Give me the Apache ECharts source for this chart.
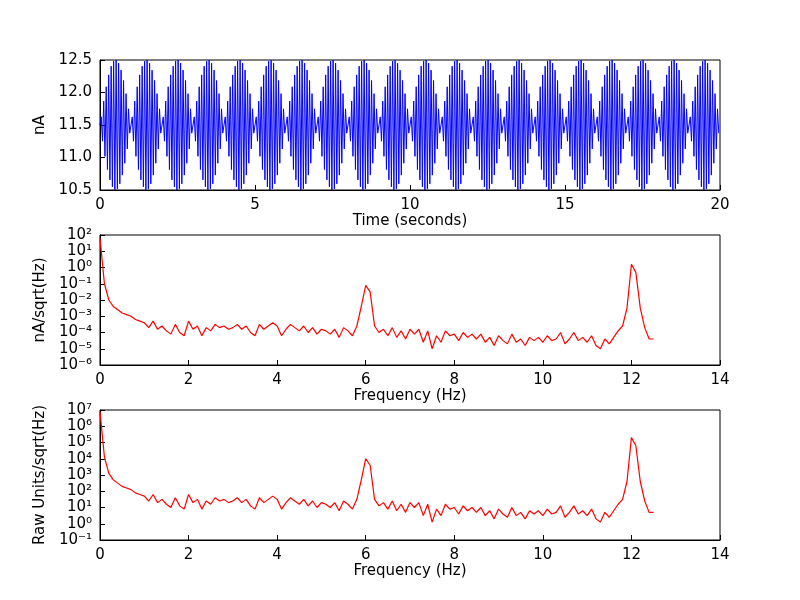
<!DOCTYPE html>
<html>
<head>
<meta charset="utf-8">
<script src="https://cdn.jsdelivr.net/npm/echarts@6/dist/echarts.min.js"></script>
<style>html,body{margin:0;padding:0;background:#fff}#main{width:800px;height:600px}</style>
</head>
<body>
<div id="main"></div>
<script>
// sample rate of the recording (Hz) and duration (s)
var sampleRate = 25;
var duration = 20;

// one 1-second beat of the sampled 12 Hz signal (nA), repeats through the record
var beatSamples = [11.5, 11.625, 11.251, 11.868, 11.018, 12.088, 10.815, 12.271, 10.656, 12.405,
    10.549, 12.482, 10.502, 12.498, 10.518, 12.451, 10.595, 12.344, 10.729, 12.185,
    10.912, 11.982, 11.132, 11.749, 11.375];

// spectrum, log10 of nA/sqrt(Hz), frequency step 0.1 Hz from 0 to 12.5
var specStep = 0.1;
var specLog = [1.8, -1.0, -2.0, -2.4, -2.6, -2.8, -2.9, -3.0, -3.2, -3.3,
    -3.4, -3.7, -3.3, -3.8, -3.6, -3.9, -4.1, -3.5, -4.0, -4.2,
    -3.3, -3.8, -3.6, -4.2, -3.7, -3.9, -3.5, -3.7, -3.6, -3.8,
    -3.7, -3.5, -3.8, -3.6, -4.0, -4.2, -3.5, -3.8, -3.6, -3.4,
    -3.6, -4.2, -3.8, -3.5, -3.7, -3.9, -3.6, -4.0, -3.7, -4.1,
    -3.8, -3.9, -4.1, -3.8, -4.3, -3.7, -3.9, -4.2, -3.6, -2.4,
    -1.1, -1.5, -3.6, -4.0, -3.8, -4.2, -3.7, -4.3, -3.9, -4.4,
    -3.8, -4.1, -3.8, -4.6, -3.9, -5.0, -4.2, -4.6, -3.9, -4.2,
    -4.1, -4.5, -4.0, -4.3, -4.1, -4.4, -4.1, -4.6, -4.3, -4.8,
    -4.2, -4.5, -4.7, -4.1, -4.6, -4.4, -4.8, -4.3, -4.5, -4.3,
    -4.6, -4.2, -4.5, -4.4, -4.0, -4.7, -4.4, -4.0, -4.5, -4.3,
    -4.6, -4.2, -4.8, -5.0, -4.4, -4.7, -4.3, -3.9, -3.6, -2.5,
    0.2, -0.3, -2.5, -3.7, -4.4, -4.4];

// raw units per nA
var rawPerNA = 1.26e5;

var signal = [];
for (var i = 0; i < sampleRate * duration; i++) {
    signal.push([i / sampleRate, beatSamples[i % beatSamples.length]]);
}
var specNA = specLog.map(function (v, i) { return [i * specStep, Math.pow(10, v)]; });
var specRaw = specLog.map(function (v, i) { return [i * specStep, Math.pow(10, v) * rawPerNA]; });

var sup = {'-': '\u207B', '0': '\u2070', '1': '\u00B9', '2': '\u00B2', '3': '\u00B3', '4': '\u2074',
    '5': '\u2075', '6': '\u2076', '7': '\u2077', '8': '\u2078', '9': '\u2079'};
function powLabel(v) {
    var e = String(Math.round(Math.log10(v)));
    return '10' + e.split('').map(function (c) { return sup[c]; }).join('');
}

var font = 'DejaVu Sans';
var axisCommon = {
    axisLine: {lineStyle: {color: '#000'}},
    axisTick: {inside: true, length: 5, lineStyle: {color: '#000'}},
    axisLabel: {color: '#000', fontSize: 15, fontFamily: font},
    splitLine: {show: false},
    nameLocation: 'middle',
    nameTextStyle: {color: '#000', fontSize: 15, fontFamily: font}
};
function ax(o) { return Object.assign({}, axisCommon, o); }

var chart = echarts.init(document.getElementById('main'));
chart.setOption({
    animation: false,
    backgroundColor: '#fff',
    grid: [
        {left: 100, right: 80, top: 60, height: 130, show: true, borderColor: '#000', borderWidth: 1},
        {left: 100, right: 80, top: 235, height: 130, show: true, borderColor: '#000', borderWidth: 1},
        {left: 100, right: 80, top: 410, height: 130, show: true, borderColor: '#000', borderWidth: 1}
    ],
    xAxis: [
        ax({gridIndex: 0, type: 'value', min: 0, max: 20, interval: 5, name: 'Time (seconds)', nameGap: 22}),
        ax({gridIndex: 1, type: 'value', min: 0, max: 14, interval: 2, name: 'Frequency (Hz)', nameGap: 22}),
        ax({gridIndex: 2, type: 'value', min: 0, max: 14, interval: 2, name: 'Frequency (Hz)', nameGap: 22})
    ],
    yAxis: [
        ax({gridIndex: 0, type: 'value', min: 10.5, max: 12.5, interval: 0.5, name: 'nA', nameGap: 48,
            axisLabel: Object.assign({}, axisCommon.axisLabel, {formatter: function (v) { return v.toFixed(1); }})}),
        ax({gridIndex: 1, type: 'log', logBase: 10, min: 1e-6, max: 1e2, name: 'nA/sqrt(Hz)', nameGap: 48,
            axisLabel: Object.assign({}, axisCommon.axisLabel, {formatter: powLabel})}),
        ax({gridIndex: 2, type: 'log', logBase: 10, min: 1e-1, max: 1e7, name: 'Raw Units/sqrt(Hz)', nameGap: 48,
            axisLabel: Object.assign({}, axisCommon.axisLabel, {formatter: powLabel})})
    ],
    series: [
        {type: 'line', xAxisIndex: 0, yAxisIndex: 0, data: signal, showSymbol: false,
            lineStyle: {color: '#0000ff', width: 1}},
        {type: 'line', xAxisIndex: 1, yAxisIndex: 1, data: specNA, showSymbol: false,
            lineStyle: {color: '#ff0000', width: 1.2}},
        {type: 'line', xAxisIndex: 2, yAxisIndex: 2, data: specRaw, showSymbol: false,
            lineStyle: {color: '#ff0000', width: 1.2}}
    ]
});
</script>
</body>
</html>
